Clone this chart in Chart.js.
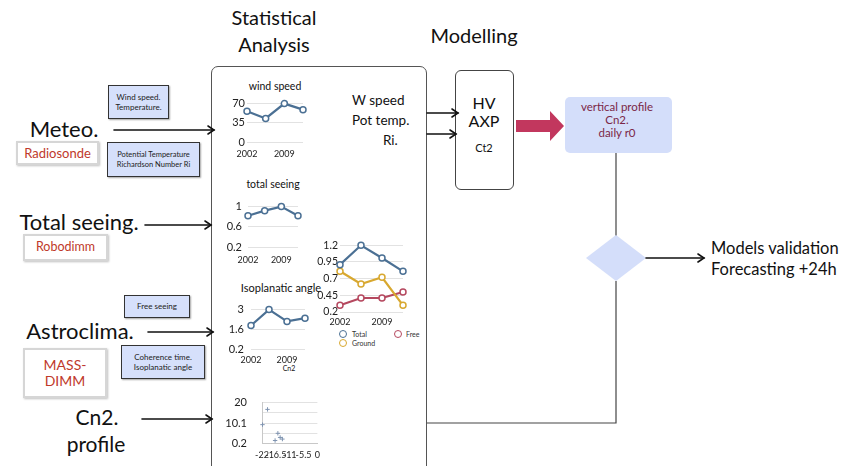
<!DOCTYPE html>
<html><head><meta charset="utf-8">
<script src="https://cdn.jsdelivr.net/npm/chart.js@4"></script>
<style>
html,body{margin:0;padding:0;width:843px;height:466px;overflow:hidden;background:#fff;font-family:Lato,"Open Sans",sans-serif;color:#111;}
.a{position:absolute;white-space:nowrap;line-height:1;}
.c{transform:translate(-50%,-50%);text-align:center;}
.l{transform:translate(0,-50%);}
.box{position:absolute;display:flex;align-items:center;justify-content:center;text-align:center;box-sizing:border-box;line-height:1.3;}
.sk{background:#d6e0fb;border:1.5px solid #333;box-shadow:1px 1px 1.5px rgba(0,0,0,.35);color:#222;}
.src{background:#fff;border:2px solid #d6d6d6;box-shadow:1px 1px 2px rgba(0,0,0,.25);color:#c0392b;}
.cw{position:absolute;}
svg{position:absolute;left:0;top:0;}
</style></head>
<body>
<script>
// ---- data ----
const years = ["2002", "2005", "2009", "2012"];
const windSpeed = [56, 43, 70, 59];
const totalSeeing = [0.82, 0.92, 1.0, 0.82];
const isoAngle = [1.87, 3.0, 2.16, 2.39];
const seeingTotal = [0.91, 1.2, 1.01, 0.81];
const seeingGround = [0.81, 0.62, 0.72, 0.30];
const seeingFree = [0.30, 0.41, 0.41, 0.50];
const cn2Altitude = [-19.8, -21.8, -15.7, -14.8, -13.9, -16.8];
const cn2Value = [16.7, 9.3, 5.1, 3.1, 2.3, 1.6];
// tick labels
const windTicks = [0, 35, 70];
const seeingTicks = [0.2, 0.6, 1];
const isoTicks = [0.2, 1.6, 3];
const combinedTicks = [0.2, 0.45, 0.7, 0.95, 1.2];
const cn2YTicks = [0.2, 5.15, 10.1, 15.05, 20];
const cn2XTicks = [-22, -16.5, -11, -5.5, 0];
</script>

<!-- diagram frame -->
<div style="position:absolute;left:211px;top:66px;width:216px;height:460px;border:1px solid #555;border-radius:7px;box-sizing:border-box;"></div>
<div style="position:absolute;left:455px;top:70px;width:59px;height:120px;border:1px solid #444;border-radius:6px;box-sizing:border-box;"></div>
<div style="position:absolute;left:565px;top:97px;width:107px;height:56px;background:#d4defa;border-radius:5px;"></div>

<svg width="843" height="466">
  <g stroke="#444" stroke-width="1.2" fill="none">
    <line x1="616" y1="153" x2="616" y2="236"/>
    <polyline points="427,423 616,423 616,281"/>
  </g>
  <polygon points="616,235 646,258 616,281 586,258" fill="#d4defa"/>
  <polygon points="516,120 550,120 550,111 564,126 550,141 550,132 516,132" fill="#c2375e"/>
  <g stroke="#111" stroke-width="1.6" fill="none" stroke-linecap="round">
    <line x1="114" y1="130" x2="214" y2="130"/><polyline points="208,126 214,130 208,134"/>
    <line x1="145" y1="225" x2="211" y2="225"/><polyline points="205,221 211,225 205,229"/>
    <line x1="148" y1="332" x2="213" y2="332"/><polyline points="207,328 213,332 207,336"/>
    <line x1="142" y1="419" x2="212" y2="419"/><polyline points="206,415 212,419 206,423"/>
    <line x1="427" y1="113" x2="458" y2="113"/><polyline points="452,109 458,113 452,117"/>
    <line x1="427" y1="134" x2="456" y2="134"/><polyline points="450,130 456,134 450,138"/>
    <line x1="646" y1="258" x2="704" y2="258"/><polyline points="698,254 704,258 698,262"/>
  </g>
</svg>

<!-- headings -->
<div class="a c" style="left:274px;top:17px;font-size:20px;">Statistical</div>
<div class="a c" style="left:274px;top:44px;font-size:20px;">Analysis</div>
<div class="a c" style="left:474px;top:35px;font-size:20px;">Modelling</div>

<!-- left column -->
<div class="a c" style="left:64px;top:129px;font-size:22px;">Meteo.</div>
<div class="box src" style="left:16px;top:141px;width:83px;height:24px;font-size:13px;">Radiosonde</div>
<div class="box sk" style="left:108px;top:85px;width:61px;height:34px;font-size:8px;">Wind speed.<br>Temperature.</div>
<div class="box sk" style="left:107px;top:142px;width:93px;height:35px;font-size:7.5px;">Potential Temperature<br>Richardson Number Ri</div>

<div class="a c" style="left:79px;top:222px;font-size:22px;">Total seeing.</div>
<div class="box src" style="left:23px;top:234px;width:85px;height:27px;font-size:12.5px;">Robodimm</div>

<div class="box sk" style="left:124px;top:295px;width:66px;height:23px;font-size:8px;">Free seeing</div>
<div class="a c" style="left:80px;top:331px;font-size:22px;">Astroclima.</div>
<div class="box src" style="left:23px;top:348px;width:84px;height:50px;font-size:14px;line-height:1.15;">MASS-<br>DIMM</div>
<div class="box sk" style="left:121px;top:345px;width:84px;height:34px;font-size:8px;">Coherence time.<br>Isoplanatic angle</div>

<div class="a c" style="left:97px;top:416px;font-size:21px;">Cn2.</div>
<div class="a c" style="left:96px;top:443px;font-size:21px;">profile</div>

<!-- inside statistical box -->
<div class="a c" style="left:275px;top:86px;font-size:10.5px;">wind speed</div>
<div class="a c" style="left:273px;top:184px;font-size:10.5px;">total seeing</div>
<div class="a c" style="left:281px;top:287px;font-size:11px;">Isoplanatic angle</div>
<div class="a c" style="left:289px;top:368px;font-size:7px;">Cn2</div>
<div class="a l" style="left:352px;top:101px;font-size:13.5px;">W speed</div>
<div class="a l" style="left:352px;top:121px;font-size:13.5px;">Pot temp.</div>
<div class="a l" style="left:383px;top:141px;font-size:13.5px;">Ri.</div>

<!-- legend of combined chart -->
<div class="a" style="left:339px;top:330px;width:6px;height:6px;border:1.3px solid #4b7094;border-radius:50%;"></div>
<div class="a l" style="left:352px;top:334px;font-size:7px;color:#333;">Total</div>
<div class="a" style="left:394px;top:330px;width:6px;height:6px;border:1.3px solid #b5485f;border-radius:50%;"></div>
<div class="a l" style="left:406px;top:334px;font-size:7px;color:#333;">Free</div>
<div class="a" style="left:339px;top:339px;width:6px;height:6px;border:1.3px solid #d8a830;border-radius:50%;"></div>
<div class="a l" style="left:352px;top:343px;font-size:7px;color:#333;">Ground</div>

<!-- modelling side -->
<div class="a c" style="left:484px;top:103px;font-size:16px;">HV</div>
<div class="a c" style="left:484px;top:121px;font-size:16px;">AXP</div>
<div class="a c" style="left:484px;top:147px;font-size:11px;">Ct2</div>
<div class="a c" style="left:617px;top:107px;font-size:11.5px;color:#7b2747;">vertical profile</div>
<div class="a c" style="left:617px;top:120px;font-size:11.5px;color:#7b2747;">Cn2.</div>
<div class="a c" style="left:617px;top:133px;font-size:11.5px;color:#7b2747;">daily r0</div>
<div class="a l" style="left:711px;top:248px;font-size:16.5px;">Models validation</div>
<div class="a l" style="left:711px;top:269px;font-size:16.5px;">Forecasting +24h</div>

<script>
const BLUE = '#4b7094', GOLD = '#d8a830', RED = '#b5485f', GRID = '#e2e2e2';
const FONT = 'Lato';

function mk(g, type, data, xOpts, yOpts) {
  const W = g.r - g.l + g.yw + g.pr, H = g.b - g.t + g.pt + g.xh;
  const wrap = document.createElement('div');
  wrap.className = 'cw';
  wrap.style.left = (g.l - g.yw) + 'px'; wrap.style.top = (g.t - g.pt) + 'px';
  wrap.style.width = W + 'px'; wrap.style.height = H + 'px';
  const cv = document.createElement('canvas');
  cv.width = W; cv.height = H; cv.style.width = W + 'px'; cv.style.height = H + 'px';
  wrap.appendChild(cv); document.body.appendChild(wrap);
  xOpts.afterFit = s => { s.height = g.xh; };
  yOpts.afterFit = s => { s.width = g.yw; };
  return new Chart(cv, {
    type, data,
    options: {
      responsive: false, animation: false, devicePixelRatio: 1,
      layout: { padding: { left: 0, top: g.pt, right: g.pr, bottom: 0 } },
      plugins: { legend: { display: false }, tooltip: { enabled: false } },
      scales: { x: xOpts, y: yOpts }
    }
  });
}

function lineDs(values, color) {
  return { data: values, borderColor: color, borderWidth: 2.2, tension: 0, clip: false,
           pointRadius: 3, pointBorderWidth: 1.5, pointBackgroundColor: '#fff', pointBorderColor: color };
}
function catX(fontSize, pad) {
  return { type: 'category', offset: false, grid: { display: false, drawTicks: false }, border: { display: false },
    ticks: { autoSkip: false, maxRotation: 0, padding: pad, color: '#222', font: { family: FONT, size: fontSize },
      callback: function (v, i) { return i % 2 === 0 ? this.getLabelForValue(v) : ''; } } };
}
function linY(min, max, ticks, pad, fontSize, labelEvery) {
  return { min, max, grid: { color: GRID, drawTicks: false }, border: { display: false },
    afterBuildTicks: s => { s.ticks = ticks.map(v => ({ value: v })); },
    ticks: { padding: pad, color: '#222', font: { family: FONT, size: fontSize },
      callback: (v, i) => (i % (labelEvery || 1) === 0 ? String(v) : '') } };
}

// wind speed
mk({ l: 247, r: 304, t: 103, b: 142, yw: 30, pt: 8, pr: 6, xh: 22 }, 'line',
   { labels: years, datasets: [lineDs(windSpeed, BLUE)] },
   catX(9, 7), linY(0, 70, windTicks, 2, 11));
// total seeing
mk({ l: 248, r: 300, t: 202, b: 247, yw: 30, pt: 8, pr: 6, xh: 22 }, 'line',
   { labels: years, datasets: [lineDs(totalSeeing, BLUE)] },
   catX(9, 8), linY(0.2, 1, seeingTicks, 6, 11));
// isoplanatic angle
mk({ l: 251, r: 305, t: 304, b: 349, yw: 30, pt: 8, pr: 6, xh: 18 }, 'line',
   { labels: years, datasets: [lineDs(isoAngle, BLUE)] },
   catX(9, 6), linY(0.2, 3, isoTicks, 7, 11));
// combined seeing
mk({ l: 340, r: 403, t: 245, b: 312, yw: 32, pt: 8, pr: 6, xh: 18 }, 'line',
   { labels: years, datasets: [lineDs(seeingTotal, BLUE), lineDs(seeingGround, GOLD), lineDs(seeingFree, RED)] },
   catX(9, 5), linY(0.2, 1.2, combinedTicks, 2, 10.5));
// Cn2 scatter
mk({ l: 262, r: 318, t: 389, b: 445, yw: 40, pt: 8, pr: 8, xh: 20 }, 'scatter',
   { datasets: [{ data: cn2Altitude.map((x, i) => ({ x, y: cn2Value[i] })), clip: false,
       pointStyle: 'cross', pointRadius: 2.2, borderWidth: 1, borderColor: '#7f93b0', backgroundColor: '#7f93b0' }] },
   { type: 'linear', min: -22, max: 0, grid: { display: false, drawTicks: false }, border: { display: true, color: '#c8c8c8' },
     afterBuildTicks: s => { s.ticks = cn2XTicks.map(v => ({ value: v })); },
     ticks: { autoSkip: false, maxRotation: 0, padding: 6, color: '#222', font: { family: FONT, size: 9 } } },
   (() => { const o = linY(0.2, 20, cn2YTicks, 15, 11, 2); o.border = { display: true, color: '#c8c8c8' }; return o; })());
</script>
</body></html>
